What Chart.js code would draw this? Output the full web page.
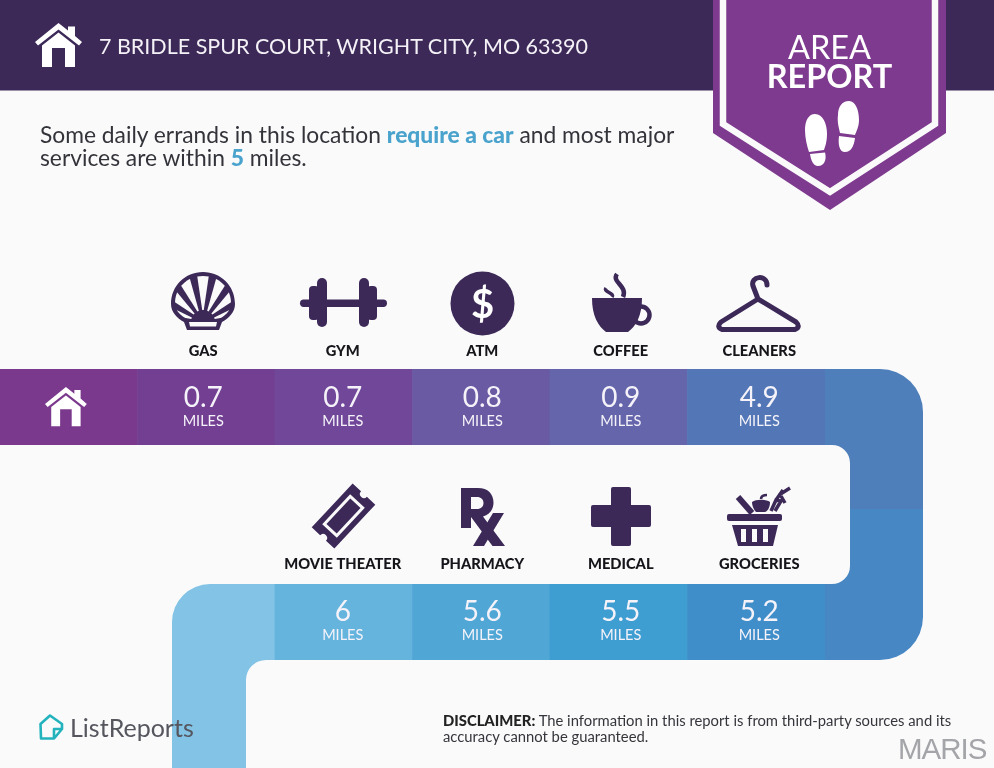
<!DOCTYPE html>
<html>
<head>
<meta charset="utf-8">
<title>Area Report</title>
<script src="https://cdn.jsdelivr.net/npm/chart.js@4"></script>
<style>
  html, body { margin: 0; padding: 0; background: #fafafb; }
  #page { position: relative; width: 994px; height: 768px; overflow: hidden; font-family: Lato, sans-serif; background: #fafafb; }
  #page svg, #page canvas, #page div { position: absolute; }
  #page svg, #page canvas { left: 0; top: 0; }
  .address { left: 99px; top: 32px; font-size: 21.5px; line-height: 28px; color: #f4f1f7; white-space: nowrap; }
  .area, .report { left: 713px; width: 233px; text-align: center; color: #fff; font-size: 32.5px; line-height: 34px; }
  .area { top: 30px; font-weight: 400; }
  .report { top: 59px; font-weight: 700; }
  .intro { left: 40px; top: 123px; font-size: 22.8px; line-height: 22.6px; color: #33343a; white-space: nowrap; }
  .intro b { color: #4aa3cc; font-weight: 900; }
  .brand { left: 70px; top: 712px; font-size: 25px; line-height: 30px; color: #55565e; }
  .disclaimer { left: 443px; top: 713px; font-size: 14.8px; line-height: 15.5px; color: #35363b; white-space: nowrap; }
  .disclaimer b { color: #222; font-weight: 900; }
  .maris { left: 898px; top: 732px; font-family: "Liberation Sans", sans-serif; font-size: 29.5px; line-height: 34px; color: #a4a5a8; letter-spacing: -1px; }
</style>
</head>
<body>
<div id="page">
  <!-- header, banner and the ribbon the tiles sit on -->
  <svg width="994" height="768">
    <rect x="0" y="0" width="994" height="90.5" fill="#3c2958"/>
    <polygon points="713,0 946,0 946,133 830,210 713,133" fill="#7e3a8e"/>
    <polyline points="723,0 723,124 830,192 935,124 935,0" fill="none" stroke="#fafafb" stroke-width="6.5"/>
    <path d="M825 369 H880 A43 43 0 0 1 923 412 V510 H850 V463 A18 18 0 0 0 832 445 H825 Z" fill="#4e7fba"/>
    <path d="M850 509 H923 V617 A43 43 0 0 1 880 660 H825 V584 H832 A18 18 0 0 0 850 566 Z" fill="#4787c3"/>
    <path d="M276 584 H210 A38 38 0 0 0 172 622 V768 H246 V680 A20 20 0 0 1 266 660 H276 Z" fill="#82c3e6"/>
  </svg>

  <canvas id="topStrip" width="994" height="768"></canvas>
  <canvas id="bottomStrip" width="994" height="768"></canvas>

  <!-- icons -->
  <svg width="994" height="768">
    <defs>
      <g id="house">
        <path d="M0 19 L23.5 0 L33 7.5 V3.5 H40 V13 L47 19 L44 22.5 L23.5 6.5 L3 22.5 Z"/>
        <path d="M7 22.5 L23.5 9.5 L40 22.5 V44 H30 V25 H17 V44 H7 Z"/>
      </g>
      <clipPath id="shellClip">
        <path d="M203 276 C187 276 175 288 175 303 C175 311 181 316 190 321 H216 C225 316 231 311 231 303 C231 288 219 276 203 276 Z"/>
      </clipPath>
    </defs>
    <use href="#house" x="35" y="23" fill="#fff"/>
    <use href="#house" transform="translate(45 387) scale(0.89)" fill="#fff"/>

    <!-- footprints -->
    <g fill="#fff">
      <path d="M815 114 C823 114 827 124 827 134 C827 142 825 147 824 150 L809 152 C807 146 805 138 805 130 C805 120 809 114 815 114 Z"/>
      <path d="M810 154 L825 152.5 C827 160 824 166 818 166 C813 166 811 160 810 154 Z"/>
      <path d="M849 101 C856 101 859 111 859 120 C859 127 856 132 855 135 L840 133 C839 128 837 122 838 115 C838 107 842 101 849 101 Z"/>
      <path d="M839 136 L855 138 C854 146 851 152 845 152 C839 152 838 144 839 136 Z"/>
    </g>

    <g fill="#3c2958">
      <!-- gas -->
      <path d="M203 272 C185 272 171 286 171 304 C171 312 177 318 184 322 L187 330 H219 L222 322 C229 318 235 312 235 304 C235 286 221 272 203 272 Z"/>
      <g id="shellRays" clip-path="url(#shellClip)" fill="#fafafb"></g>
      <path d="M189 322 H217 L216 326.5 H190 Z" fill="#fafafb"/>
      <!-- gym -->
      <rect x="300" y="299.5" width="87" height="7.5" rx="3.7"/>
      <rect x="309" y="286" width="10" height="34" rx="4"/>
      <rect x="317" y="278" width="10" height="49" rx="5"/>
      <rect x="359" y="278" width="10" height="49" rx="5"/>
      <rect x="367" y="286" width="10" height="34" rx="4"/>
      <!-- atm -->
      <circle cx="482.5" cy="303.5" r="32"/>
      <!-- coffee -->
      <circle cx="641" cy="315" r="8.5" fill="none" stroke="#3c2958" stroke-width="4.5"/>
      <path d="M592 298 H642 C642 316 636 326 628 332 H606 C598 326 592 316 592 298 Z"/>
      <path d="M617 274 C611 282 628 286 623 297" fill="none" stroke="#3c2958" stroke-width="4.5"/>
      <path d="M606 288 C603 292 615 293 612 297" fill="none" stroke="#3c2958" stroke-width="3.5"/>
      <!-- cleaners -->
      <path d="M758 299 L796 322 Q801 327 795 329.5 H722 Q716 327 721 322 Z M758 299 L753 286 C750 276 767 274 767 285" fill="none" stroke="#3c2958" stroke-width="5" stroke-linejoin="round" stroke-linecap="round"/>
      <!-- movie theater -->
      <g transform="translate(343.5 516) rotate(-47)">
        <path d="M-30 -15.5 H30 V-4 A4 4 0 0 0 30 4 V15.5 H-30 V4 A4 4 0 0 0 -30 -4 Z"/>
        <rect x="-19" y="-8.5" width="38" height="17" fill="none" stroke="#fafafb" stroke-width="3"/>
      </g>
      <!-- pharmacy -->
      <path fill-rule="evenodd" d="M461 488 H478 C488 488 493.5 494 493.5 502.5 C493.5 510 489 515 483 516.5 L505 546 H492.5 L471 517 V528 H461 Z M471 497 V509 H477 C481 509 483.5 506.5 483.5 503 C483.5 499.5 481 497 477 497 Z"/>
      <polygon points="493,513 504,513 484,546 473,546"/>
      <!-- medical -->
      <path d="M613 487 H629 Q631 487 631 489 V505 H649 Q651 505 651 507 V525 Q651 527 649 527 H631 V544 Q631 546 629 546 H613 Q611 546 611 544 V527 H593 Q591 527 591 525 V507 Q591 505 593 505 H611 V489 Q611 487 613 487 Z"/>
      <!-- groceries -->
      <rect x="727" y="514" width="55" height="7" rx="2"/>
      <path fill-rule="evenodd" d="M732 525 H778 L773 546 H738 Z M741 529 V542 H746 V529 Z M752 529 V542 H757 V529 Z M763 529 V542 H768 V529 Z"/>
      <path d="M738 497 L752 513" fill="none" stroke="#3c2958" stroke-width="6"/>
      <path d="M752 502 C756 499 766 499 770 502 C770 507 768 511 765 512 H756 C754 510 752 506 752 502 Z"/>
      <path d="M761 499 C761 496 764 495 767 495" fill="none" stroke="#3c2958" stroke-width="2.5"/>
      <path d="M771 511 L776 500 L781 501 L775 511 M776 500 L783 490 M779 495 L790 488 M781 496 L785 503" fill="none" stroke="#3c2958" stroke-width="3.5"/>
    </g>

    <!-- list reports logo -->
    <path d="M40.5 724 L50 715.5 L62 724 V729 L54 738.5 H41 Z M62 729 H54 V738" fill="none" stroke="#22b3bd" stroke-width="2.6" stroke-linejoin="round"/>
  </svg>

  <div class="address">7 BRIDLE SPUR COURT, WRIGHT CITY, MO 63390</div>
  <div class="area">AREA</div>
  <div class="report">REPORT</div>
  <div class="intro">Some daily errands in this location <b>require a car</b> and most major<br>services are within <b>5</b> miles.</div>
  <div style="left:450.5px;top:280px;width:64px;text-align:center;color:#fff;font-size:40px;line-height:46px;font-weight:700;">$</div>
  <div class="brand">ListReports</div>
  <div class="disclaimer"><b>DISCLAIMER:</b> The information in this report is from third-party sources and its<br>accuracy cannot be guaranteed.</div>
  <div class="maris">MARIS</div>
</div>

<script>
const topLabels = ['', 'GAS', 'GYM', 'ATM', 'COFFEE', 'CLEANERS'];
const topMiles = [null, '0.7', '0.7', '0.8', '0.9', '4.9'];
const bottomLabels = ['', '', 'MOVIE THEATER', 'PHARMACY', 'MEDICAL', 'GROCERIES'];
const bottomMiles = [null, null, '6', '5.6', '5.5', '5.2'];

const topColors = ['#7b398d', '#733f92', '#704799', '#6a5aa3', '#6465aa', '#5276b6'];
const bottomColors = ['transparent', 'transparent', '#65b4de', '#50a7d6', '#3e9dd1', '#3f8ec9'];

// the text in the original sits a few px off the tile centres
const textShift = [0, -3, -1, 1, 2, 3];

const tileText = {
    id: 'tileText',
    afterDatasetsDraw(chart, args, opts) {
        const ctx = chart.ctx;
        const x = chart.scales.x;
        const top = chart.chartArea.top;
        ctx.save();
        ctx.textAlign = 'center';
        ctx.textBaseline = 'middle';
        opts.labels.forEach((label, i) => {
            const cx = x.getPixelForValue(i) + textShift[i];
            if (label) {
                ctx.fillStyle = '#15151a';
                ctx.font = '900 14.7px Lato, sans-serif';
                ctx.fillText(label, cx, top + opts.labelGap);
            }
            if (opts.miles[i] !== null) {
                ctx.fillStyle = '#f5f3f9';
                ctx.font = '400 28px Lato, sans-serif';
                ctx.fillText(opts.miles[i], cx, top + opts.valueGap);
                ctx.font = '400 14.5px Lato, sans-serif';
                ctx.fillText('MILES', cx, top + opts.valueGap + 23);
            }
        });
        ctx.restore();
    }
};

function drawStrip(id, labels, miles, colors, top, labelGap, valueGap) {
    return new Chart(document.getElementById(id), {
        type: 'bar',
        data: {
            labels: labels,
            datasets: [{
                // every tile fills its row, the distance is printed on it
                data: labels.map(() => 1),
                backgroundColor: colors,
                borderWidth: 0,
                barPercentage: 1,
                categoryPercentage: 1
            }]
        },
        options: {
            responsive: false,
            animation: false,
            devicePixelRatio: 1,
            layout: { padding: { left: 0, right: 994 - 825, top: top, bottom: 768 - top - 76 } },
            scales: {
                x: { display: false },
                y: { display: false, min: 0, max: 1 }
            },
            plugins: {
                legend: { display: false },
                tooltip: { enabled: false },
                tileText: { labels: labels, miles: miles, labelGap: labelGap, valueGap: valueGap }
            }
        },
        plugins: [tileText]
    });
}

// shell rays
let rays = '';
for (let a = -72; a <= 72; a += 24) {
    const rad = a * Math.PI / 180;
    const w = 0.13;
    const pt = (r, t) => `${203 + r * Math.sin(t)},${322 - r * Math.cos(t)}`;
    rays += `<polygon points="${pt(12, rad - w / 2)} ${pt(60, rad - w)} ${pt(60, rad + w)} ${pt(12, rad + w / 2)}"/>`;
}
document.getElementById('shellRays').innerHTML = rays;

document.fonts.ready.then(() => {
    drawStrip('topStrip', topLabels, topMiles, topColors, 369, -18, 29);
    drawStrip('bottomStrip', bottomLabels, bottomMiles, bottomColors, 584, -20, 28);
});
</script>
</body>
</html>
